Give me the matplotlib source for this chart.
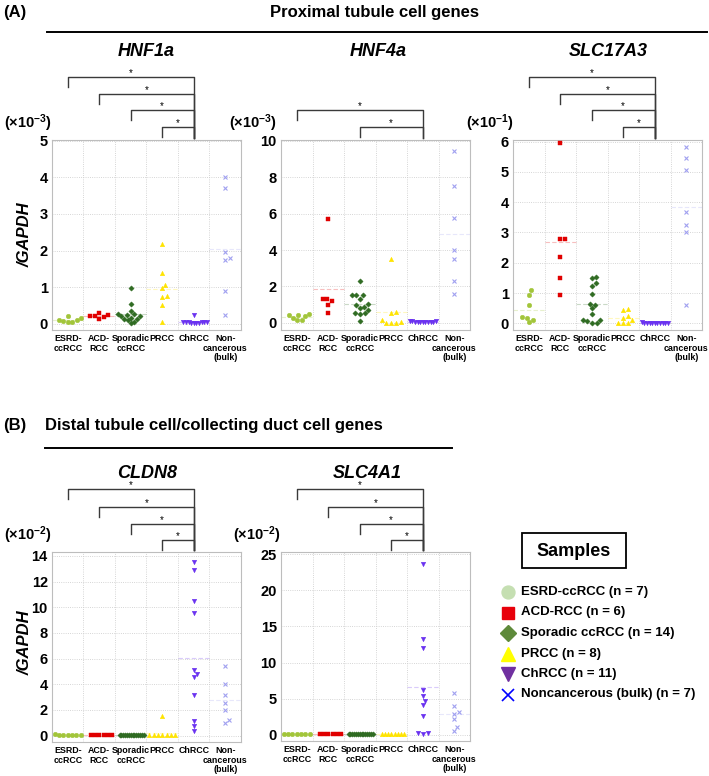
import numpy as np
import matplotlib
matplotlib.use("Agg")
import matplotlib.pyplot as plt
from matplotlib.transforms import blended_transform_factory
from matplotlib.patches import Rectangle

plt.rcParams['font.family'] = ['Liberation Sans', 'DejaVu Sans']
plt.rcParams['mathtext.fontset'] = 'custom'
plt.rcParams['mathtext.rm'] = 'Liberation Sans:bold'
plt.rcParams['mathtext.bf'] = 'Liberation Sans:bold'
plt.rcParams['mathtext.it'] = 'Liberation Sans:bold:italic'

# groups (x categories)
groups = ["ESRD-\nccRCC", "ACD-\nRCC", "Sporadic\nccRCC", "PRCC", "ChRCC", "Non-\ncancerous\n(bulk)"]
legend_labels = ["ESRD-ccRCC (n = 7)", "ACD-RCC (n = 6)", "Sporadic ccRCC (n = 14)",
                 "PRCC (n = 8)", "ChRCC (n = 11)", "Noncancerous (bulk) (n = 7)"]

# expression / GAPDH, one list per group
hnf1a = [
    [0.15, 0.10, 0.05, 0.20, 0.05, 0.07, 0.10],
    [0.30, 0.22, 0.18, 0.14, 0.20, 0.23],
    [0.97, 0.55, 0.34, 0.27, 0.26, 0.24, 0.21, 0.20, 0.17, 0.14, 0.12, 0.11, 0.05, 0.03],
    [2.18, 1.38, 1.07, 0.97, 0.77, 0.73, 0.50, 0.05],
    [0.25, 0.06, 0.06, 0.05, 0.05, 0.04, 0.04, 0.03, 0.03, 0.02, 0.02],
    [4.02, 3.70, 1.95, 1.80, 1.75, 0.90, 0.24],
]
hnf4a = [
    [0.50, 0.43, 0.40, 0.37, 0.28, 0.17, 0.15],
    [5.68, 1.33, 1.30, 1.17, 0.98, 0.54],
    [2.30, 1.55, 1.52, 1.50, 1.33, 1.05, 1.00, 0.88, 0.83, 0.70, 0.56, 0.52, 0.50, 0.09],
    [3.52, 0.61, 0.52, 0.13, 0.05, 0.01, 0.01, 0.01],
    [0.10, 0.08, 0.07, 0.06, 0.05, 0.05, 0.04, 0.04, 0.03, 0.02, 0.02],
    [9.45, 7.50, 5.76, 4.00, 3.52, 2.28, 1.60],
]
slc17a3 = [
    [1.09, 0.95, 0.61, 0.22, 0.17, 0.11, 0.03],
    [5.95, 2.78, 2.78, 2.20, 1.50, 0.93],
    [1.53, 1.48, 1.32, 1.24, 0.97, 0.64, 0.61, 0.49, 0.30, 0.12, 0.10, 0.07, 0.01, 0.01],
    [0.48, 0.45, 0.25, 0.18, 0.11, 0.01, 0.01, 0.01],
    [0.03, 0.02, 0.02, 0.02, 0.02, 0.02, 0.02, 0.01, 0.01, 0.01, 0.01],
    [5.81, 5.46, 5.05, 3.67, 3.24, 3.00, 0.62],
]
cldn8 = [
    [0.05, 0.05, 0.06, 0.12, 0.05, 0.04, 0.05],
    [0.05, 0.05, 0.05, 0.05, 0.05, 0.05],
    [0.02, 0.02, 0.02, 0.02, 0.02, 0.02, 0.02, 0.02, 0.02, 0.02, 0.02, 0.02, 0.02, 0.02],
    [1.55, 0.02, 0.02, 0.02, 0.02, 0.02, 0.02, 0.02],
    [13.50, 12.90, 10.47, 9.54, 5.08, 4.80, 4.56, 3.19, 1.17, 0.78, 0.34],
    [5.39, 4.00, 3.14, 2.51, 2.02, 1.24, 0.99],
]
slc4a1 = [
    [0.10, 0.10, 0.10, 0.10, 0.10, 0.10, 0.10],
    [0.10, 0.10, 0.10, 0.10, 0.10, 0.10],
    [0.10, 0.10, 0.10, 0.10, 0.10, 0.10, 0.10, 0.10, 0.10, 0.10, 0.10, 0.10, 0.10, 0.10],
    [0.10, 0.10, 0.10, 0.10, 0.10, 0.10, 0.10, 0.10],
    [23.70, 13.20, 11.96, 6.24, 5.44, 4.74, 4.17, 2.63, 0.28, 0.19, 0.14],
    [5.76, 3.93, 3.23, 2.95, 2.25, 1.12, 0.56],
]

# significance brackets: left group (1-based) vs ChRCC (5)
sig_a = [1, 2, 3, 4]
sig_hnf4a = [1, 3]

markers = ['o', 's', 'D', '^', 'v', 'x']
colors = ['#a2c53a', '#e00000', '#2f6b22', '#ffe400', '#6a32f0', '#a0a0f0']
msizes = [3.3, 3.2, 2.7, 3.3, 3.3, 3.4]
leg_colors = ['#c5dfb2', '#e8000b', '#5e8a3a', '#ffff00', '#7030a0', '#0000ff']
leg_sizes = [9.3, 9, 8, 10, 10, 9]

W, H = 709, 776
fig = plt.figure(figsize=(W / 100, H / 100), dpi=100)

lay = fig.add_axes([0, 0, 1, 1])
lay.set_xlim(0, W)
lay.set_ylim(H, 0)
lay.axis('off')


def swarm(vals, px_unit, d=4.8, maxw=13.0, col_px=31.5):
    ys = np.asarray(vals, float) * px_unit
    offs = np.zeros(len(ys))
    placed = []
    for i in np.argsort(ys):
        y = ys[i]
        cands = [0.0]
        for px, py in placed:
            dy = y - py
            if abs(dy) < d:
                dx = np.sqrt(d * d - dy * dy)
                cands += [px + dx, px - dx]
        best = 0.0
        for c in sorted(cands, key=abs):
            if all((c - px) ** 2 + (y - py) ** 2 >= d * d - 1e-6 for px, py in placed):
                best = c
                break
        placed.append((best, y))
        offs[i] = best
    m = np.abs(offs).max()
    if m > maxw:
        offs *= maxw / m
    return offs / col_px


def panel(box, data, ylim, yticks, sig, sig_levels, drop=10):
    l, t, r, b = box
    ax = fig.add_axes([l / W, 1 - b / H, (r - l) / W, (b - t) / H])
    px_unit = (b - t) / (ylim[1] - ylim[0])
    for k, vals in enumerate(data):
        x = k + 1 + swarm(vals, px_unit)
        mean = np.mean(vals)
        ax.plot([k + 0.5, k + 1.5], [mean, mean], ls=(0, (4, 2)), lw=0.8,
                color=colors[k], alpha=0.25, zorder=2)
        if markers[k] == 'x':
            ax.plot(x, vals, ls='none', marker='x', ms=msizes[k], mew=0.8,
                    color=colors[k], zorder=3)
        else:
            ax.plot(x, vals, ls='none', marker=markers[k], ms=msizes[k],
                    mfc=colors[k], mec=colors[k], mew=0.3, zorder=3)
    ax.set_xlim(0.5, 6.5)
    ax.set_ylim(*ylim)
    ax.set_yticks(yticks)
    ax.set_yticklabels([str(v) for v in yticks], fontsize=10.5, fontweight='bold')
    ax.set_xticks(range(1, 7))
    ax.set_xticklabels(groups, fontsize=6.4, fontweight='bold', linespacing=1.05)
    ax.set_xticks([1.5, 2.5, 3.5, 4.5, 5.5], minor=True)
    ax.tick_params(which='both', length=0, pad=3)
    ax.grid(True, which='minor', axis='x', ls=':', lw=0.6, color='#c8c8c8')
    ax.grid(True, which='major', axis='y', ls=':', lw=0.6, color='#c8c8c8')
    for s in ax.spines.values():
        s.set_color('#bdbdbd')
        s.set_linewidth(0.8)
    tr = blended_transform_factory(ax.transData, lay.transData)
    for g, y in zip(sig, sig_levels):
        ax.plot([g, g, 5, 5], [y + drop, y, y, t - 2], color='#3a3a3a', lw=1.0,
                transform=tr, clip_on=False)
        ax.text((g + 5) / 2, y - 0.5, '*', ha='center', va='baseline', fontsize=7,
                transform=tr)
    ax.set_xlim(0.5, 6.5)
    ax.set_ylim(*ylim)
    return ax


panel((52, 140, 241, 330), hnf1a, (-0.17, 5.02), [0, 1, 2, 3, 4, 5], sig_a, [77, 94, 110, 127])
panel((281, 140, 470, 330), hnf4a, (-0.4, 10.05), [0, 2, 4, 6, 8, 10], sig_hnf4a, [110, 127])
panel((513, 140, 702, 330), slc17a3, (-0.22, 6.05), [0, 1, 2, 3, 4, 5, 6], sig_a, [77, 94, 110, 127])
panel((52, 552, 241, 742), cldn8, (-0.5, 14.3), [0, 2, 4, 6, 8, 10, 12, 14], sig_a, [489, 507, 524, 540])
panel((281, 552, 470, 741), slc4a1, (-0.85, 25.3), [0, 5, 10, 15, 20, 25], sig_a, [489, 507, 524, 540])

# headers
lay.text(3, 17, '(A)', fontsize=12, fontweight='bold', va='baseline')
lay.text(375, 17, 'Proximal tubule cell genes', fontsize=12, fontweight='bold', ha='center', va='baseline')
lay.plot([47, 707], [32, 32], color='black', lw=1.4)
lay.text(3, 430, '(B)', fontsize=12, fontweight='bold', va='baseline')
lay.text(45, 430, 'Distal tubule cell/collecting duct cell genes', fontsize=12, fontweight='bold', va='baseline')
lay.plot([45, 452], [448, 448], color='black', lw=1.4)

for name, x, y in [('HNF1a', 146, 52), ('HNF4a', 378, 52), ('SLC17A3', 608, 52),
                   ('CLDN8', 147, 473), ('SLC4A1', 367, 473)]:
    lay.text(x, y, name, fontsize=13, fontweight='bold', style='italic', ha='center', va='center')

for txt, x, y in [(r'($\times$10$^{-3}$)', 4, 123), (r'($\times$10$^{-3}$)', 229, 123),
                  (r'($\times$10$^{-1}$)', 466, 123), (r'($\times$10$^{-2}$)', 4, 535),
                  (r'($\times$10$^{-2}$)', 233, 535)]:
    lay.text(x, y, txt, fontsize=10.5, fontweight='bold', ha='left', va='center')

for y in [235, 643]:
    lay.text(25, y, '/GAPDH', fontsize=12, fontweight='bold', style='italic',
             rotation=90, ha='center', va='center')

# legend
lay.add_patch(Rectangle((522, 533), 104, 35, fill=False, ec='black', lw=1.3))
lay.text(574, 551, 'Samples', fontsize=13, fontweight='bold', ha='center', va='center')
for k, lab in enumerate(legend_labels):
    y = 592 + k * 20.5
    if markers[k] == 'x':
        lay.plot([508], [y], marker='x', ms=leg_sizes[k], mew=1.2, color=leg_colors[k], ls='none')
    else:
        lay.plot([508], [y], marker=markers[k], ms=leg_sizes[k], color=leg_colors[k],
                 mec=leg_colors[k], ls='none')
    lay.text(521, y, lab, fontsize=9.5, fontweight='bold', va='center')

fig.savefig('out.png', dpi=100)
